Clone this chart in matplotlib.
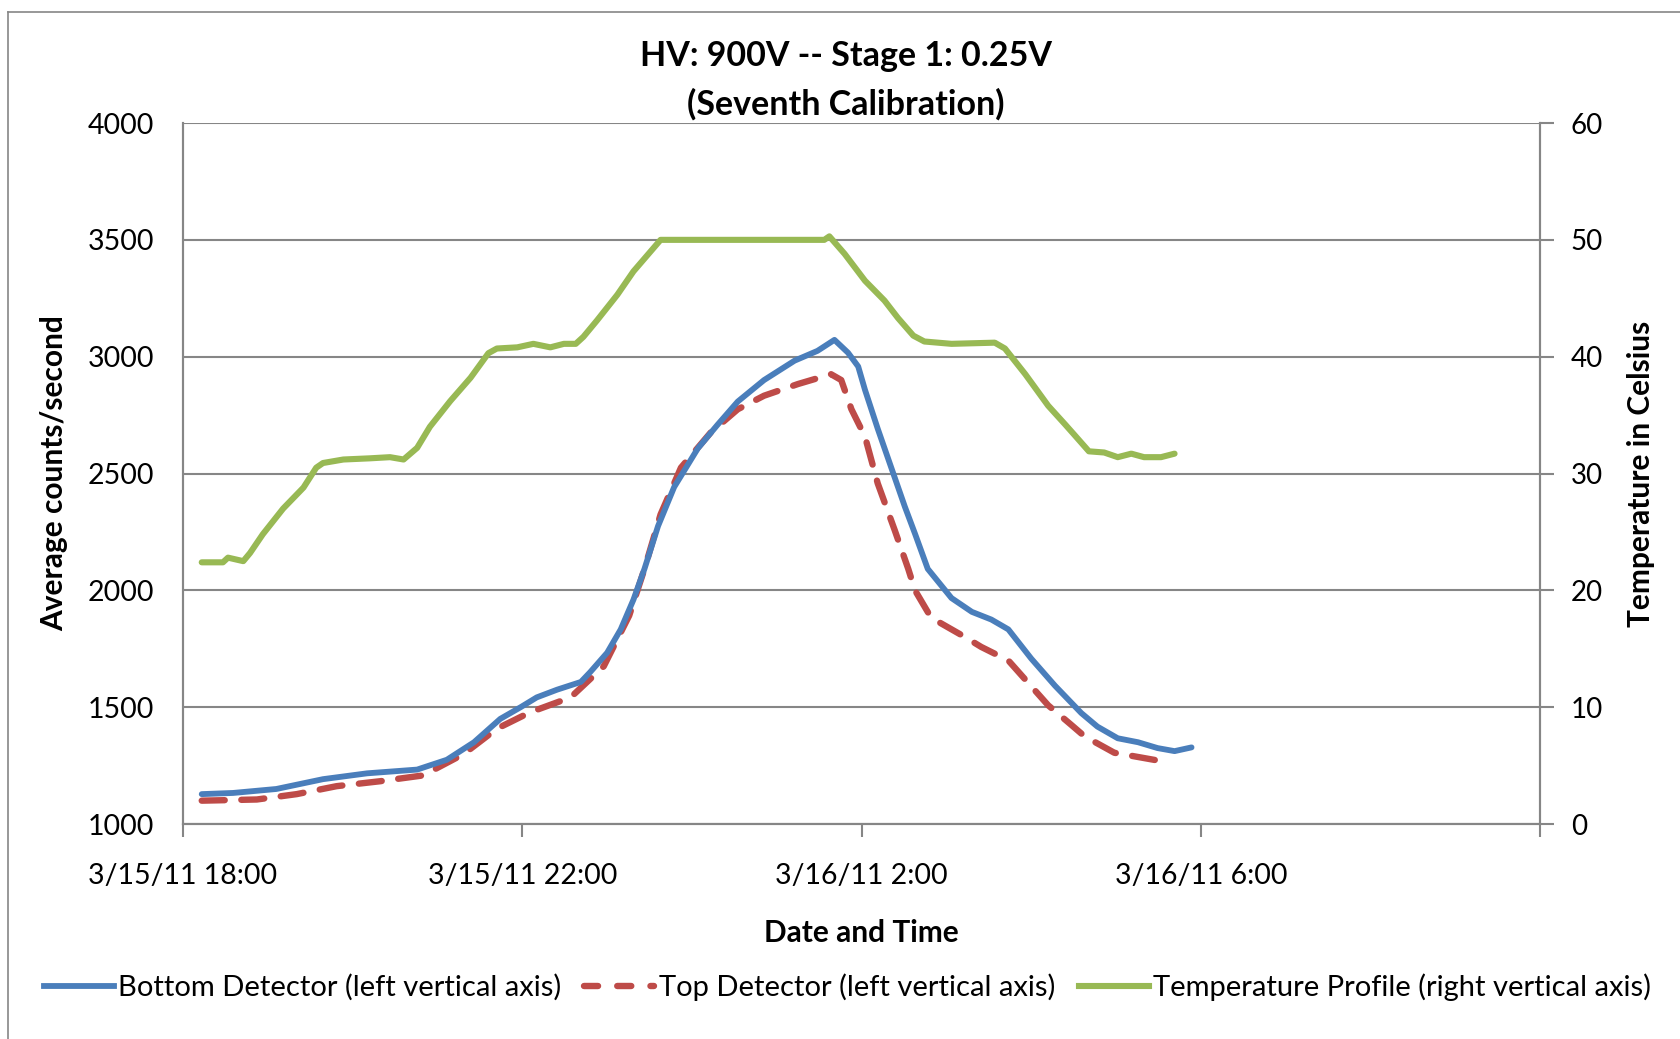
import matplotlib
matplotlib.use("Agg")
import matplotlib.pyplot as plt
import pandas as pd
from matplotlib.lines import Line2D

plt.rcParams['font.family'] = ['Lato', 'DejaVu Sans']

# données (heures depuis 3/15/11 18:00)
start = pd.Timestamp("2011-03-15 18:00")

bottom_h = [0.22, 0.59, 1.10, 1.65, 2.17, 2.76, 3.11, 3.43, 3.74, 3.98, 4.17, 4.41, 4.69, 4.80,
            5.00, 5.16, 5.31, 5.44, 5.60, 5.79, 6.07, 6.30, 6.54, 6.85, 7.21, 7.48, 7.68, 7.84,
            7.96, 8.04, 8.19, 8.35, 8.51, 8.63, 8.78, 9.06, 9.30, 9.53, 9.73, 10.00, 10.28, 10.59,
            10.78, 11.02, 11.26, 11.49, 11.69, 11.89]
bottom_c = [1128, 1133, 1150, 1192, 1217, 1233, 1275, 1350, 1450, 1500, 1542, 1575, 1608, 1650,
            1733, 1833, 1960, 2092, 2275, 2442, 2608, 2708, 2808, 2900, 2983, 3025, 3072, 3017,
            2958, 2858, 2692, 2525, 2358, 2242, 2092, 1967, 1908, 1875, 1833, 1708, 1592, 1475,
            1417, 1367, 1350, 1325, 1312, 1328]

top_h = [0.22, 0.87, 1.34, 1.81, 2.32, 2.83, 3.31, 3.70, 4.09, 4.57, 4.96, 5.26, 5.44, 5.63,
         5.87, 6.22, 6.54, 6.85, 7.25, 7.64, 7.76, 7.88, 8.04, 8.19, 8.39, 8.55, 8.63, 8.82,
         9.22, 9.41, 9.73, 10.20, 10.47, 10.63, 10.98, 11.49, 11.61]
top_c = [1100, 1105, 1128, 1162, 1183, 1208, 1300, 1408, 1478, 1542, 1675, 1892, 2092, 2325,
         2525, 2675, 2775, 2833, 2883, 2925, 2900, 2775, 2658, 2458, 2258, 2092, 2000, 1883,
         1800, 1758, 1700, 1508, 1425, 1375, 1305, 1272, 1267]

temp_h = [0.22, 0.47, 0.53, 0.71, 0.79, 0.94, 1.18, 1.42, 1.57, 1.65, 1.89, 2.20, 2.44, 2.60,
          2.76, 2.91, 3.15, 3.39, 3.60, 3.70, 3.94, 4.13, 4.33, 4.49, 4.63, 4.72, 4.88, 5.12,
          5.31, 5.63, 6.50, 7.56, 7.62, 7.80, 8.04, 8.27, 8.43, 8.61, 8.74, 9.06, 9.57, 9.69,
          9.93, 10.20, 10.40, 10.51, 10.68, 10.86, 11.02, 11.18, 11.33, 11.53, 11.69]
temp_c = [22.4, 22.4, 22.8, 22.5, 23.2, 24.8, 27.0, 28.8, 30.5, 30.9, 31.2, 31.3, 31.4, 31.2,
          32.2, 34.0, 36.2, 38.2, 40.3, 40.7, 40.8, 41.1, 40.8, 41.1, 41.1, 41.7, 43.1, 45.3,
          47.3, 50.0, 50.0, 50.0, 50.3, 48.8, 46.5, 44.8, 43.3, 41.8, 41.3, 41.1, 41.2, 40.7,
          38.5, 35.8, 34.2, 33.3, 31.9, 31.8, 31.4, 31.7, 31.4, 31.4, 31.7]

tick_h = [0, 4, 8, 12, 16]
tick_labels = ["3/15/11 18:00", "3/15/11 22:00", "3/16/11 2:00", "3/16/11 6:00", ""]

def to_time(h):
    return start + pd.to_timedelta(h, unit="h")

fig = plt.figure(figsize=(16.81, 10.39), dpi=100)
ax = fig.add_axes([0.1089, 0.2069, 0.8073, 0.6747])
ax2 = ax.twinx()

gris = "#868686"
bleu = "#4A7EBB"
rouge = "#BE4B48"
vert = "#98B954"

ax.plot(to_time(bottom_h), bottom_c, color=bleu, lw=4.2, solid_capstyle="round",
        solid_joinstyle="round", zorder=3)
ax.plot(to_time(top_h), top_c, color=rouge, lw=4.6, dashes=(3.6, 2.6),
        dash_capstyle="round", dash_joinstyle="round", zorder=2)
ax2.plot(to_time(temp_h), temp_c, color=vert, lw=4.4, solid_capstyle="round",
         solid_joinstyle="round")

ax.set_ylim(1000, 4000)
ax.set_yticks(range(1000, 4001, 500))
ax2.set_ylim(0, 60)
ax2.set_yticks(range(0, 61, 10))
ax.set_xlim(to_time(0), to_time(16))
ax.set_xticks(to_time(tick_h))
ax.set_xticklabels(tick_labels)

ax.grid(axis="y", color=gris, lw=1.5)
ax.set_axisbelow(True)
for a in (ax, ax2):
    for s in a.spines.values():
        s.set_color(gris)
        s.set_linewidth(1.5)
    a.spines["top"].set_visible(False)
ax.tick_params(axis="y", length=0, labelsize=20.5, pad=21)
ax.tick_params(axis="x", length=9, width=1.5, color=gris, labelsize=20.5, pad=19)
ax2.tick_params(axis="y", length=10, width=1.5, color=gris, labelsize=20, pad=12)

ax.set_title("HV: 900V -- Stage 1: 0.25V\n(Seventh Calibration)", fontsize=24.5,
             fontweight="bold", pad=6, linespacing=1.6, x=0.4886)
ax.set_xlabel("Date and Time", fontsize=21.5, fontweight="bold", labelpad=22)
ax.set_ylabel("Average counts/second", fontsize=21.5, fontweight="bold", labelpad=14)
ax2.set_ylabel("Temperature in Celsius", fontsize=21.5, fontweight="bold", labelpad=17)

# légende
handles = [Line2D([], [], color=bleu, lw=4.2),
           Line2D([], [], color=rouge, lw=4.6, dashes=(2.2, 3.0), dash_capstyle="round"),
           Line2D([], [], color=vert, lw=4.4)]
fig.legend(handles, ["Bottom Detector (left vertical axis)", "Top Detector (left vertical axis)",
                     "Temperature Profile (right vertical axis)"],
           loc="center", bbox_to_anchor=(0.504, 0.05), ncol=3, frameon=False,
           fontsize=21, handlelength=2.4, handletextpad=0.15, columnspacing=0.8)

# cadre du graphique
fig.add_artist(Line2D([0.0048, 0.0048], [0, 0.988], color=gris, lw=1.2))
fig.add_artist(Line2D([0.0048, 1], [0.988, 0.988], color=gris, lw=1.2))

fig.savefig("out.png", dpi=100)
